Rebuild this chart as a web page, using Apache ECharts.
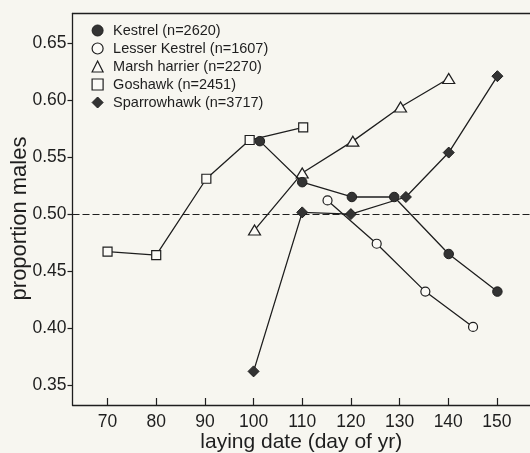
<!DOCTYPE html>
<html>
<head>
<meta charset="utf-8">
<script src="https://cdn.jsdelivr.net/npm/echarts@6/dist/echarts.min.js"></script>
<style>
html,body{margin:0;padding:0;background:#f7f6f0;}
#c{width:530px;height:453px;}
</style>
</head>
<body>
<div id="c"></div>
<script>
// ---- data ----
var xTicks = [70, 80, 90, 100, 110, 120, 130, 140, 150];
var yTicks = [0.35, 0.40, 0.45, 0.50, 0.55, 0.60, 0.65];

var kestrelDays = [101.3, 110, 120.2, 128.9, 140.1, 150.1];
var kestrelVals = [0.564, 0.528, 0.515, 0.515, 0.465, 0.432];

var lesserDays = [115.2, 125.3, 135.3, 145.1];
var lesserVals = [0.512, 0.474, 0.432, 0.401];

var marshDays = [100.2, 110, 120.4, 130.2, 140.1];
var marshVals = [0.486, 0.536, 0.564, 0.594, 0.619];

var goshawkDays = [70, 80, 90.3, 99.2, 110.2];
var goshawkVals = [0.467, 0.464, 0.531, 0.565, 0.576];

var sparrowDays = [100, 110, 120, 131.3, 140.1, 150.1];
var sparrowVals = [0.362, 0.5015, 0.500, 0.515, 0.554, 0.621];

var names = ['Kestrel (n=2620)', 'Lesser Kestrel (n=1607)', 'Marsh harrier (n=2270)', 'Goshawk (n=2451)', 'Sparrowhawk (n=3717)'];
var refLine = 0.50;

function pairs(xs, ys){ return xs.map(function(x,i){ return [x, ys[i]]; }); }

var ink = '#1e1e1e';
var filled = {color:'#333', borderColor:ink, borderWidth:1};
var hollow = {color:'#fbfaf6', borderColor:ink, borderWidth:1.2};
var font = '"Liberation Sans", Arial, Helvetica, sans-serif';

function line(name, data, symbol, size, style, z){
  return {
    name: name, type:'line', data:data, symbol:symbol, symbolSize:size,
    lineStyle:{color:ink, width:1.3}, itemStyle:style, showSymbol:true,
    z: z, emphasis:{disabled:true}
  };
}

var chart = echarts.init(document.getElementById('c'));
chart.setOption({
  animation:false,
  backgroundColor:'#f7f6f0',
  textStyle:{fontFamily:font},
  grid:{left:72.5, top:13.5, right:0, bottom:48, containLabel:false, outerBoundsMode:'none'},
  legend:{
    orient:'vertical', left:86.5, top:18, padding:5, itemWidth:11, itemHeight:11, itemGap:3,
    textStyle:{fontSize:14.5, color:ink, fontFamily:font, lineHeight:14, padding:[0,0,0,5]},
    selectedMode:false,
    data:[
      {name:names[0], icon:'circle', itemStyle:filled},
      {name:names[1], icon:'circle', itemStyle:hollow},
      {name:names[2], icon:'triangle', itemStyle:hollow},
      {name:names[3], icon:'rect', itemStyle:hollow},
      {name:names[4], icon:'diamond', itemStyle:filled}
    ]
  },
  xAxis:[{
    type:'value', min:62.8, max:156.8,
    name:'laying date (day of yr)', nameLocation:'middle', nameGap:27, nameMoveOverlap:false,
    nameTextStyle:{fontSize:21, color:ink, fontFamily:font},
    axisLine:{show:true, onZero:false, lineStyle:{color:ink, width:1.3}},
    axisTick:{show:true, inside:true, length:7, customValues:xTicks, lineStyle:{color:ink, width:1.2}},
    axisLabel:{show:true, margin:8, fontSize:17.5, color:ink, fontFamily:font, customValues:xTicks},
    splitLine:{show:false}
  },{
    type:'value', position:'top', min:62.8, max:156.8,
    axisLine:{show:true, onZero:false, lineStyle:{color:ink, width:1.3}},
    axisTick:{show:false}, axisLabel:{show:false}, splitLine:{show:false}
  }],
  yAxis:{
    type:'value', min:0.3325, max:0.676,
    name:'proportion males', nameLocation:'middle', nameGap:41.5, nameMoveOverlap:false,
    nameTextStyle:{fontSize:22, color:ink, fontFamily:font, padding:[0,18.5,0,0]},
    axisLine:{show:true, onZero:false, lineStyle:{color:ink, width:1.3}},
    axisTick:{show:true, inside:false, length:5, customValues:yTicks, lineStyle:{color:ink, width:1.2}},
    axisLabel:{show:true, margin:6, fontSize:17.5, color:ink, fontFamily:font, customValues:yTicks,
      formatter:function(v){ return v.toFixed(2); }},
    splitLine:{show:false}
  },
  series:[
    line(names[3], pairs(goshawkDays, goshawkVals), 'rect', 9, hollow, 2),
    line(names[2], pairs(marshDays, marshVals), 'triangle', [12,10], hollow, 3),
    line(names[1], pairs(lesserDays, lesserVals), 'circle', 9, hollow, 4),
    line(names[4], pairs(sparrowDays, sparrowVals), 'diamond', 11, filled, 5),
    (function(){
      var s = line(names[0], pairs(kestrelDays, kestrelVals), 'circle', 9.5, filled, 6);
      s.markLine = {
        silent:true, symbol:'none', label:{show:false},
        lineStyle:{color:ink, width:1.2, type:[7,3]},
        data:[{yAxis:refLine}]
      };
      return s;
    })()
  ]
});
</script>
</body>
</html>
